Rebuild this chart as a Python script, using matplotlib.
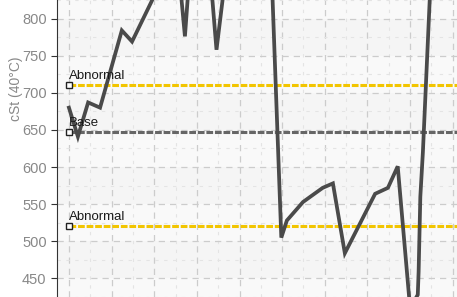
import matplotlib.pyplot as plt
import numpy as np

# sample index (x) and viscosity values
x_vals = [0.0, 0.21, 0.45, 0.73, 1.24, 1.48, 2.25, 2.6, 2.72, 2.84, 3.3, 3.46, 3.72, 4.0, 4.76, 4.98,
          5.11, 5.49, 5.95, 6.19, 6.47, 7.18, 7.48, 7.71, 8.0, 8.18, 8.2, 8.24, 8.3, 8.55]
cst_vals = [680, 641, 687, 680, 784, 769, 860, 850, 776, 870, 870, 758, 880, 870, 850, 505,
            528, 553, 572, 578, 484, 564, 572, 601, 410, 428, 459, 560, 620, 940]

limits = {'Abnormal ': 711, 'Base': 647, 'Abnormal': 521}
limit_colors = ['#f2c500', '#666666', '#f2c500']

plt.rcParams['font.family'] = ['Liberation Sans', 'DejaVu Sans']
fig = plt.figure(figsize=(4.57, 2.97), dpi=100)
ax = fig.add_axes([57/457, 0, 400/457, 1])
ax.set_xlim(-0.28, 9.1)
ax.set_ylim(430, 821)

# alternating background bands
for i, lo in enumerate(range(400, 850, 50)):
    ax.axhspan(lo, lo + 50, color='#f5f5f5' if i % 2 else '#f9f9f9', zorder=0, lw=0)

ax.set_yticks(np.arange(450, 801, 50))
ax.set_yticks(np.arange(425, 826, 25), minor=True)
ax.set_xticks(np.arange(0, 10))
ax.set_xticks(np.arange(0.5, 9.5, 1), minor=True)
ax.grid(True, which='major', color='#cccccc', linestyle=(0, (5, 4)), linewidth=0.9)
ax.grid(True, which='minor', color='#e4e4e4', linestyle=(0, (3, 5)), linewidth=0.8)
ax.set_axisbelow(True)

for (name, val), c in zip(limits.items(), limit_colors):
    ax.axhline(val, xmin=0.03, color=c, linestyle=(0, (2.2, 0.6)), linewidth=2.2, zorder=2)
    ax.plot(0, val, marker='s', markersize=4.5, markerfacecolor='white',
            markeredgecolor='#222222', markeredgewidth=1, zorder=5)
    ax.text(0.0, val + 4, name.strip(), fontsize=9.5, color='#1a1a1a', va='bottom', ha='left', zorder=6)

ax.plot(x_vals, cst_vals, color='#4a4a4a', linewidth=2.7, zorder=4, solid_joinstyle='miter')

for s in ['top', 'right', 'bottom']:
    ax.spines[s].set_visible(False)
ax.spines['left'].set_color('#333333')
ax.tick_params(axis='y', which='major', length=4, color='#333333', labelcolor='#888888', labelsize=10.5)
ax.tick_params(axis='y', which='minor', length=0)
ax.tick_params(axis='x', which='both', length=0, labelbottom=False)
ax.set_ylabel('cSt (40°C)', color='#888888', fontsize=10)
ax.yaxis.set_label_coords(-0.085, 0.7)

fig.savefig('out.png', dpi=100)
